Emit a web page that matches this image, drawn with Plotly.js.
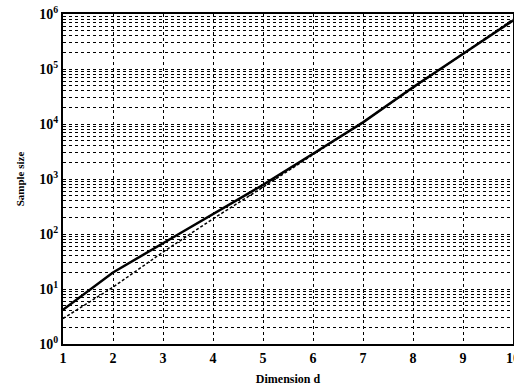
<!DOCTYPE html>
<html>
<head>
<meta charset="utf-8">
<script src="https://cdn.plot.ly/plotly-3.0.1.min.js"></script>
<style>html,body{margin:0;padding:0;background:#fff;}#chart{width:514px;height:388px;}</style>
</head>
<body>
<div id="chart"></div>
<script>
const dimension = [1, 2, 3, 4, 5, 6, 7, 8, 9, 10];
const sampleSolid = [4.2, 20, 68, 233, 780, 2880, 10700, 46500, 190000, 760000];
const sampleDashed = [2.9, 10.8, 47, 189, 710, 2800, 10800, 45000, 190000, 800000];
const yTickVals = [1, 10, 100, 1000, 10000, 100000, 1000000];
const yTickText = ['10<sup>0</sup>', '10<sup>1</sup>', '10<sup>2</sup>', '10<sup>3</sup>', '10<sup>4</sup>', '10<sup>5</sup>', '10<sup>6</sup>'];

const font = {family: 'Liberation Serif, Times New Roman, serif', color: '#000'};

const traces = [
  {x: dimension, y: sampleSolid, mode: 'lines', line: {color: '#000', width: 2.5}, showlegend: false},
  {x: dimension, y: sampleDashed, mode: 'lines', line: {color: '#000', width: 1.5, dash: '3px,2px'}, showlegend: false}
];

const layout = {
  width: 514, height: 388,
  margin: {l: 63, r: 1, t: 14, b: 44},
  paper_bgcolor: '#fff', plot_bgcolor: '#fff',
  font: font,
  xaxis: {
    range: [1, 10], dtick: 1, tick0: 1,
    showline: true, mirror: true, linewidth: 2, linecolor: '#000',
    showgrid: true, gridcolor: '#000', griddash: 'dot', gridwidth: 1,
    ticks: '', zeroline: false, ticklabeloverflow: 'allow',
    tickfont: {family: font.family, size: 14, color: '#000', weight: 'bold'},
    title: {text: 'Dimension d', font: {family: font.family, size: 12, color: '#000', weight: 'bold'}, standoff: 10}
  },
  yaxis: {
    type: 'log', range: [0, 6],
    tickvals: yTickVals, ticktext: yTickText,
    showline: true, mirror: true, linewidth: 2, linecolor: '#000',
    showgrid: true, gridcolor: '#000', griddash: 'dot', gridwidth: 1,
    minor: {dtick: 'D1', showgrid: true, gridcolor: '#000', griddash: 'dot', gridwidth: 1, ticks: ''},
    ticks: '', zeroline: false,
    tickfont: {family: font.family, size: 14, color: '#000', weight: 'bold'},
    title: {text: 'Sample size', font: {family: font.family, size: 11, color: '#000', weight: 'bold'}, standoff: 12}
  }
};

Plotly.newPlot('chart', traces, layout, {displayModeBar: false, staticPlot: true});
</script>
</body>
</html>
